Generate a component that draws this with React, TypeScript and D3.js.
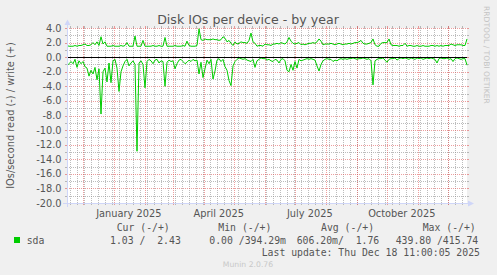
import React from 'react';
import * as d3 from 'd3';

// ---- data (one value every 2 days, starting at START) ----
const START = Date.UTC(2024, 10, 14, 17);
const END = START + 400 * 86400000;
const STEP_DAYS = 2;

const writeValues = [
  1.6, 1.5, 1.5, 1.5, 1.6, 1.5, 1.6, 1.6, 1.7, 1.8,
  1.6, 1.6, 1.7, 2.0, 1.7, 2.1, 1.6, 2.8, 1.8, 2.1,
  1.5, 1.5, 1.5, 1.6, 1.5, 1.5, 1.5, 1.6, 1.5, 1.6,
  2.0, 1.5, 1.5, 1.5, 2.9, 1.5, 1.5, 1.5, 2.3, 1.5,
  1.5, 1.5, 1.5, 1.6, 1.5, 1.5, 1.6, 1.5, 1.5, 2.7,
  1.5, 1.5, 1.5, 1.5, 1.6, 1.5, 1.5, 1.5, 1.6, 1.5,
  2.2, 1.6, 1.5, 1.5, 1.5, 1.6, 3.9, 2.4, 2.3, 2.5,
  2.4, 2.4, 2.4, 2.5, 2.4, 2.4, 2.3, 2.4, 2.8, 2.6,
  2.1, 2.3, 1.9, 1.6, 2.1, 1.8, 1.9, 2.1, 2.0, 2.0,
  1.9, 2.3, 3.3, 2.1, 1.9, 1.5, 1.6, 1.6, 1.5, 1.8,
  1.7, 1.7, 1.6, 1.8, 1.8, 1.9, 1.8, 2.0, 1.9, 1.8,
  2.1, 2.7, 2.2, 1.9, 1.8, 1.9, 2.0, 1.7, 1.8, 1.7,
  1.8, 1.9, 1.9, 2.0, 1.9, 2.1, 2.5, 2.2, 1.7, 1.8,
  1.8, 1.8, 1.9, 1.8, 1.7, 1.8, 1.9, 1.8, 1.7, 1.8,
  1.8, 1.9, 1.8, 1.9, 2.0, 2.0, 2.1, 2.3, 1.9, 1.8,
  1.8, 1.9, 2.0, 2.5, 1.7, 1.5, 1.5, 1.9, 2.0, 2.0,
  2.0, 2.5, 1.7, 1.6, 1.6, 1.6, 1.5, 1.6, 1.6, 1.9,
  1.5, 1.6, 1.6, 1.5, 1.5, 1.6, 1.5, 1.5, 1.6, 1.5,
  1.5, 1.5, 1.6, 1.6, 1.5, 1.6, 1.5, 1.6, 1.5, 1.6,
  1.6, 1.6, 1.8, 1.7, 1.6, 1.7, 1.7, 1.7, 1.6, 1.6,
  2.5,
];

const readValues = [
  1.2, 0.9, 0.6, 0.9, 0.3, 1.4, 0.5, 0.9, 0.6, 1.3,
  1.5, 2.6, 1.8, 2.3, 1.4, 3.1, 1.6, 7.8, 2.0, 1.5,
  3.4, 0.8, 3.5, 0.5, 0.3, 1.5, 4.7, 2.0, 1.2, 0.6,
  0.3, 1.2, 0.8, 0.5, 1.0, 12.9, 0.8, 0.5, 1.0, 4.2,
  0.6, 0.3, 0.5, 0.9, 0.4, 0.3, 0.8, 0.5, 0.6, 4.0,
  0.7, 0.4, 0.6, 0.5, 1.6, 0.9, 0.4, 0.3, 0.6, 0.9,
  0.7, 0.4, 0.6, 0.3, 0.5, 0.4, 2.3, 0.7, 2.8, 1.6,
  0.4, 0.9, 0.3, 3.0, 1.9, 0.4, 0.2, 0.6, 0.3, 1.3,
  1.8, 3.2, 3.9, 1.2, 0.6, 0.3, 0.1, 0.2, 0.3, 0.2,
  0.4, 0.5, 0.6, 0.3, 1.4, 0.5, 0.3, 0.1, 0.2, 0.2,
  0.4, 0.3, 0.5, 0.6, 0.3, 0.4, 0.8, 0.3, 0.2, 0.5,
  1.8, 2.0, 1.0, 1.8, 0.6, 1.5, 0.3, 0.5, 0.4, 0.3,
  0.2, 0.3, 0.2, 0.3, 0.4, 1.2, 1.9, 1.0, 0.5, 0.3,
  0.2, 0.3, 0.3, 0.6, 0.4, 0.5, 0.3, 0.2, 0.3, 0.2,
  0.3, 0.2, 0.2, 0.1, 0.2, 0.3, 0.2, 0.2, 0.1, 0.2,
  0.3, 0.2, 0.5, 3.8, 0.5, 0.3, 0.2, 0.2, 0.1, 0.4,
  0.7, 0.3, 0.2, 0.2, 0.1, 0.4, 0.2, 0.1, 0.2, 0.1,
  0.2, 0.3, 0.1, 0.2, 0.3, 0.1, 0.2, 0.1, 0.3, 0.2,
  0.1, 0.2, 0.1, 0.2, 0.3, 0.8, 0.2, 0.1, 0.2, 0.2,
  0.1, 0.3, 0.2, 0.6, 0.2, 0.1, 0.2, 0.3, 0.2, 0.2,
  1.1,
];

const yTicks = [4, 2, 0, -2, -4, -6, -8, -10, -12, -14, -16, -18, -20];
const xLabelMonths = [
  Date.UTC(2025, 0, 1),
  Date.UTC(2025, 3, 1),
  Date.UTC(2025, 6, 1),
  Date.UTC(2025, 9, 1),
];
const xLabels = ['January 2025', 'April 2025', 'July 2025', 'October 2025'];

const title = 'Disk IOs per device - by year';
const yTitle = 'IOs/second read (-) / write (+)';
const seriesName = 'sda';
const legendHeaders = ['Cur (-/+)', 'Min (-/+)', 'Avg (-/+)', 'Max (-/+)'];
const legendValues = ['1.03 /  2.43', '0.00 /394.29m', '606.20m/  1.76', '439.80 /415.74'];
const lastUpdate = 'Last update: Thu Dec 18 11:00:05 2025';
const watermark = 'Munin 2.0.76';
const sideText = 'RRDTOOL / TOBI OETIKER';

// ---- layout ----
const W = 497;
const H = 275;
const X0 = 67;
const X1 = 467;
const YT = 28;
const YB = 203;

const GREEN = '#00CC00';
const AXIS = '#CFD6F8';
const FONT = '#555555';
const GRID = 'rgba(143,143,143,0.6)';
const MGRID = 'rgba(222,79,79,0.55)';

const nb = (s: string) => s.replace(/ /g, '\u00A0');

export default function App() {
  const x = d3.scaleUtc().domain([new Date(START), new Date(END)]).range([X0, X1]);
  const y = d3.scaleLinear().domain([-20, 4]).range([YB, YT]);

  const dates = writeValues.map((_, i) => new Date(START + i * STEP_DAYS * 86400000));
  const line = d3
    .line<number>()
    .x((_, i) => x(dates[i]))
    .y((d) => y(d));
  const writePath = line(writeValues) || '';
  const readPath = line(readValues.map((v) => -v)) || '';

  const minorY = d3.range(-19, 4, 1).filter((v) => v % 2 !== 0);
  const weeks = d3.utcMonday.range(new Date(START), new Date(END));
  const months = d3.utcMonth.range(new Date(START), new Date(END));

  const px = (v: number) => Math.round(v) + 0.5;

  const legendHeaderX = [116.7, 218.3, 321, 422.7];
  const legendValueX = [110, 209.3, 296.7, 395.7];

  return (
    <svg
      width={W}
      height={H}
      style={{ position: 'absolute', left: 0, top: 0, display: 'block' }}
      fontFamily="'DejaVu Sans', sans-serif"
    >
      <rect x={0} y={0} width={W} height={H} fill="#F0F0F0" />
      <rect x={X0} y={YT} width={X1 - X0} height={YB - YT} fill="#FFFFFF" />

      {/* minor horizontal grid */}
      {minorY.map((v) => (
        <g key={'hy' + v}>
          <line x1={X0} x2={X1} y1={px(y(v))} y2={px(y(v))} stroke={GRID} strokeDasharray="1 1" />
          <line x1={X0 - 2} x2={X0} y1={px(y(v))} y2={px(y(v))} stroke={GRID} />
          <line x1={X1} x2={X1 + 2} y1={px(y(v))} y2={px(y(v))} stroke={GRID} />
        </g>
      ))}
      {/* minor vertical grid (weeks) */}
      {weeks.map((d) => (
        <g key={'wk' + d.getTime()}>
          <line x1={px(x(d))} x2={px(x(d))} y1={YT} y2={YB} stroke={GRID} strokeDasharray="1 1" />
          <line x1={px(x(d))} x2={px(x(d))} y1={YB} y2={YB + 2} stroke={GRID} />
          <line x1={px(x(d))} x2={px(x(d))} y1={YT - 2} y2={YT} stroke={GRID} />
        </g>
      ))}
      {/* major horizontal grid */}
      {yTicks.map((v) => (
        <g key={'my' + v}>
          <line x1={X0} x2={X1} y1={px(y(v))} y2={px(y(v))} stroke={MGRID} strokeDasharray="1 1" />
          <line x1={X0 - 2} x2={X0} y1={px(y(v))} y2={px(y(v))} stroke={MGRID} />
          <line x1={X1} x2={X1 + 2} y1={px(y(v))} y2={px(y(v))} stroke={MGRID} />
        </g>
      ))}
      {/* major vertical grid (months) */}
      {months.map((d) => (
        <g key={'mo' + d.getTime()}>
          <line x1={px(x(d))} x2={px(x(d))} y1={YT} y2={YB} stroke={MGRID} strokeDasharray="1 1" />
          <line x1={px(x(d))} x2={px(x(d))} y1={YB} y2={YB + 2} stroke={MGRID} />
          <line x1={px(x(d))} x2={px(x(d))} y1={YT - 2} y2={YT} stroke={MGRID} />
        </g>
      ))}

      {/* data */}
      <defs>
        <clipPath id="cv">
          <rect x={X0} y={YT} width={X1 - X0 + 1} height={YB - YT} />
        </clipPath>
      </defs>
      <g clipPath="url(#cv)">
        <path d={readPath} fill="none" stroke={GREEN} strokeWidth={1} />
        <path d={writePath} fill="none" stroke={GREEN} strokeWidth={1} />
      </g>
      {/* zero line */}
      <line x1={X0} x2={X1} y1={px(y(0))} y2={px(y(0))} stroke="#000000" />

      {/* axes */}
      <line x1={X0 - 4} x2={X1 + 4} y1={YB + 0.5} y2={YB + 0.5} stroke={AXIS} />
      <line x1={X0 + 0.5} x2={X0 + 0.5} y1={YB + 4} y2={YT - 4} stroke={AXIS} />
      <polygon points={`${X1 + 1},${YB - 2.5} ${X1 + 7},${YB + 0.5} ${X1 + 1},${YB + 3.5}`} fill={AXIS} />
      <polygon points={`${X0 - 2.5},${YT - 3} ${X0 + 0.5},${YT - 8.5} ${X0 + 3.5},${YT - 3}`} fill={AXIS} />

      {/* y tick labels */}
      {yTicks.map((v) => (
        <text key={'yl' + v} x={61.5} y={y(v) + 3.5} fontSize={9.8} fill={FONT} textAnchor="end">
          {v.toFixed(1)}
        </text>
      ))}
      {/* x labels */}
      {xLabelMonths.map((m, i) => (
        <text
          key={'xl' + i}
          x={x(new Date(m + 14.5 * 86400000))}
          y={216.5}
          fontSize={9.8}
          fill={FONT}
          textAnchor="middle"
        >
          {xLabels[i]}
        </text>
      ))}

      {/* title */}
      <text x={248} y={24} fontSize={12.6} fill={FONT} textAnchor="middle">
        {title}
      </text>
      {/* y title */}
      <text
        transform={`translate(13.8, ${(YT + YB) / 2}) rotate(-90)`}
        fontSize={9.8}
        fill={FONT}
        textAnchor="middle"
      >
        {yTitle}
      </text>
      {/* side watermark */}
      <text transform="translate(483.5, 6) rotate(90)" fontSize={7.6} fill="#C4C4C4">
        {sideText}
      </text>

      {/* legend */}
      <g fontFamily="'DejaVu Sans Mono', monospace" fontSize={9.8} fill={FONT}>
        {legendHeaders.map((h, i) => (
          <text key={'lh' + i} x={legendHeaderX[i]} y={231}>
            {nb(h)}
          </text>
        ))}
        <rect x={14} y={237} width={6} height={6} fill={GREEN} />
        <text x={26.7} y={243.5}>
          {seriesName}
        </text>
        {legendValues.map((v, i) => (
          <text key={'lv' + i} x={legendValueX[i]} y={243.5}>
            {nb(v)}
          </text>
        ))}
        <text x={261.7} y={256}>
          {nb(lastUpdate)}
        </text>
      </g>
      <text x={248} y={266.5} fontSize={7.7} fill="#C8C8C8" textAnchor="middle">
        {watermark}
      </text>
    </svg>
  );
}
